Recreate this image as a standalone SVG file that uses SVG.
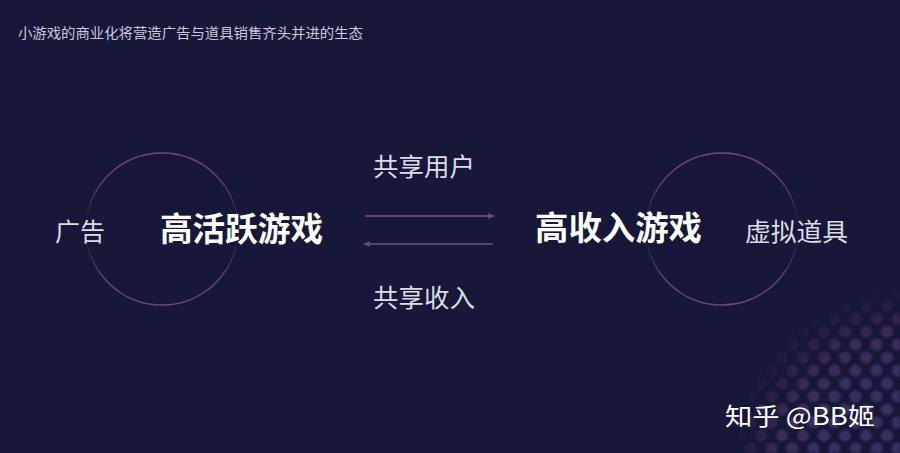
<svg xmlns="http://www.w3.org/2000/svg" width="900" height="453" viewBox="0 0 900 453">
<style>
text{font-family:"Noto Sans CJK SC","Noto Sans",sans-serif;}
.title{font-size:14px;fill:#c9c9da;}
.side{font-size:25px;fill:#dcdce6;}
.main{font-size:33px;font-weight:bold;fill:#ffffff;}
.lbl{font-size:25px;fill:#dcdce6;}
.ring{fill:none;stroke:url(#ringGrad);stroke-width:1.6;}
.wm{font-size:24px;fill:#ffffff;}
</style>
<defs>
<linearGradient id="ringGrad" x1="0" y1="0" x2="0" y2="1">
<stop offset="0" stop-color="#8a4577" stop-opacity="0.95"/>
<stop offset="0.25" stop-color="#6a4a7a" stop-opacity="0.7"/>
<stop offset="0.45" stop-color="#4a4a70" stop-opacity="0.05"/>
<stop offset="0.58" stop-color="#4a4a70" stop-opacity="0.05"/>
<stop offset="0.8" stop-color="#6a5a8a" stop-opacity="0.7"/>
<stop offset="1" stop-color="#7a4a80" stop-opacity="0.9"/>
</linearGradient>
<marker id="headR" viewBox="0 0 10 10" refX="9" refY="5" markerWidth="7" markerHeight="7" orient="auto" markerUnits="userSpaceOnUse">
<path d="M0,1 L10,5 L0,9 Z" fill="#7a4478"/>
</marker>
<marker id="headL" viewBox="0 0 10 10" refX="9" refY="5" markerWidth="7" markerHeight="7" orient="auto" markerUnits="userSpaceOnUse">
<path d="M0,1 L10,5 L0,9 Z" fill="#55557e"/>
</marker>
<pattern id="dotPat" x="740" y="312" width="21" height="26" patternUnits="userSpaceOnUse">
<circle cx="10.5" cy="6.5" r="6" fill="#fff"/>
<circle cx="0" cy="19.5" r="6" fill="#fff"/>
<circle cx="21" cy="19.5" r="6" fill="#fff"/>
</pattern>
<mask id="dotMask" maskUnits="userSpaceOnUse" x="700" y="290" width="200" height="163">
<rect x="700" y="290" width="200" height="163" fill="url(#dotPat)"/>
</mask>
<filter id="soft" x="-5%" y="-5%" width="110%" height="110%">
<feGaussianBlur stdDeviation="1"/>
</filter>
<radialGradient id="dotColor" cx="915" cy="470" r="185" gradientUnits="userSpaceOnUse">
<stop offset="0" stop-color="#5c5a9c" stop-opacity="0.4"/>
<stop offset="0.55" stop-color="#605494" stop-opacity="0.42"/>
<stop offset="0.75" stop-color="#7a4a80" stop-opacity="0.38"/>
<stop offset="0.9" stop-color="#6a3e70" stop-opacity="0.18"/>
<stop offset="1" stop-color="#4a3a6a" stop-opacity="0"/>
</radialGradient>
</defs>
<rect width="900" height="453" fill="#17173a"/>
<g id="dots" filter="url(#soft)">
<rect x="700" y="290" width="200" height="163" fill="url(#dotColor)" mask="url(#dotMask)"/>
</g>
<g id="title">
<text class="title" x="18" y="38" textLength="345" lengthAdjust="spacingAndGlyphs">小游戏的商业化将营造广告与道具销售齐头并进的生态</text>
</g>
<g id="node-active">
<circle class="ring" cx="162" cy="229" r="76"/>
<text class="main" x="160" y="241" textLength="163" lengthAdjust="spacingAndGlyphs">高活跃游戏</text>
</g>
<g id="node-ad">
<text class="side" x="55" y="241">广告</text>
</g>
<g id="node-income">
<circle class="ring" cx="722" cy="229" r="76"/>
<text class="main" x="535" y="240" textLength="167" lengthAdjust="spacingAndGlyphs">高收入游戏</text>
</g>
<g id="node-props">
<text class="side" x="745" y="241" textLength="103" lengthAdjust="spacingAndGlyphs">虚拟道具</text>
</g>
<g id="connectors">
<line x1="365" y1="216" x2="494" y2="216" stroke="#6e3f72" stroke-width="2" marker-end="url(#headR)"/>
<line x1="493" y1="244" x2="364" y2="244" stroke="#4a4a74" stroke-width="2" marker-end="url(#headL)"/>
<text class="lbl" x="373" y="176" textLength="102" lengthAdjust="spacingAndGlyphs">共享用户</text>
<text class="lbl" x="373" y="307" textLength="102" lengthAdjust="spacingAndGlyphs">共享收入</text>
</g>
<g id="watermark">
<text class="wm" x="725" y="425" textLength="150" lengthAdjust="spacingAndGlyphs">知乎 @BB姬</text>
</g>
</svg>
